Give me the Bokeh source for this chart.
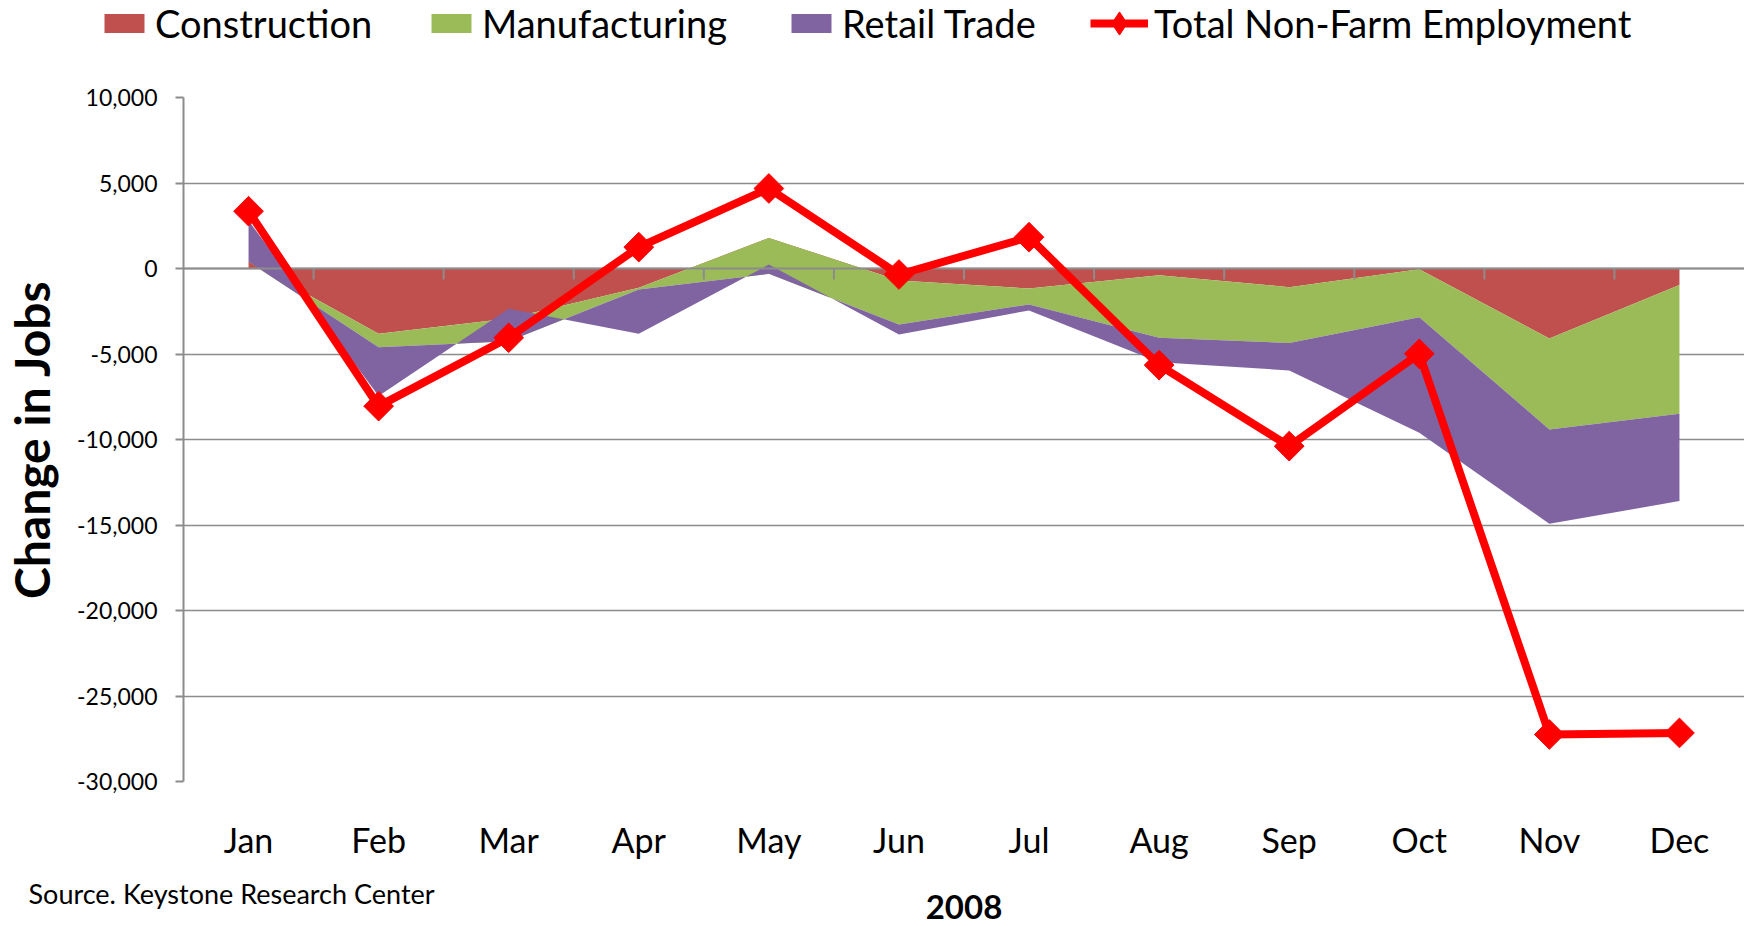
import numpy as np
from bokeh.plotting import figure
from bokeh.layouts import column
from bokeh.models import (ColumnDataSource, Range1d, FixedTicker, NumeralTickFormatter,
                          Legend, LegendItem, Label)
from bokeh.embed import file_html
from bokeh.resources import INLINE

# ---- data ----
months = ["Jan", "Feb", "Mar", "Apr", "May", "Jun", "Jul", "Aug", "Sep", "Oct", "Nov", "Dec"]
construction = [400, -3820, -2920, -1130, 1790, -700, -1170, -390, -1090, -50, -4090, -970]
manufacturing = [0, -780, -1330, -100, -2100, -2570, -930, -3660, -3260, -2800, -5320, -7530]
retail_trade = [2400, -2860, 1890, -2590, 540, -590, -350, -1430, -1610, -6760, -5520, -5100]
total_nonfarm = [3350, -8050, -4050, 1250, 4680, -350, 1830, -5650, -10390, -4990, -27250, -27160]
series_names = ["Construction", "Manufacturing", "Retail Trade", "Total Non-Farm Employment"]
y_ticks = [-30000, -25000, -20000, -15000, -10000, -5000, 0, 5000, 10000]
year_label = "2008"
source_note = "Source. Keystone Research Center"
y_title = "Change in Jobs"

FONT = "Lato"
GRID = "#8c8c8c"
COLORS = ["#C0504D", "#9BBB59", "#8064A2"]
LINE_RED = "#FF0000"

W = 1744
LEG_H, MAIN_H, BOT_H = 46, 816, 64
BL, BT, BB = 183, 51, 80


def bare(h, yr):
    f = figure(width=W, height=h, output_backend="svg", toolbar_location=None,
               x_range=Range1d(0, W), y_range=yr, x_axis_type=None, y_axis_type=None,
               min_border=0, min_border_left=0, min_border_right=0,
               min_border_top=0, min_border_bottom=0, frame_align=False)
    f.outline_line_color = None
    f.grid.grid_line_color = None
    return f


# ---------------- main chart ----------------
x = list(range(len(months)))
src = ColumnDataSource(dict(x=x, construction=construction, manufacturing=manufacturing,
                            retail=retail_trade, total=total_nonfarm))

p = figure(width=W, height=MAIN_H, output_backend="svg", toolbar_location=None,
           x_range=Range1d(-0.5, len(months) - 0.5), y_range=Range1d(-30000, 10000),
           min_border_left=BL, min_border_right=0, min_border_top=BT, min_border_bottom=BB,
           frame_align=False)
p.outline_line_color = None

# stacked areas (Excel-style signed stacking)
areas = p.varea_stack(stackers=["construction", "manufacturing", "retail"], x="x",
                      color=COLORS, source=src)

# category axis line at zero with tick marks between categories
frame_h = MAIN_H - BT - BB
p.hspan(y=[0], line_color=GRID, line_width=2)
bounds = [i + 0.5 for i in range(len(months) - 1)]
tick_len = 11 * 40000 / frame_h
p.segment(x0=bounds, x1=bounds, y0=[0] * len(bounds), y1=[-tick_len] * len(bounds),
          line_color=GRID, line_width=2)

# total line with diamond markers
p.line("x", "total", source=src, line_color=LINE_RED, line_width=8, line_join="round")
p.scatter("x", "total", source=src, marker="square", angle=np.pi / 4, size=21,
          fill_color=LINE_RED, line_color=LINE_RED)

p.xgrid.grid_line_color = None
p.ygrid.grid_line_color = GRID
p.ygrid.grid_line_width = 1.5
p.yaxis.ticker = FixedTicker(ticks=y_ticks)
p.yaxis.formatter = NumeralTickFormatter(format="0,0")
p.yaxis.axis_line_color = GRID
p.yaxis.axis_line_width = 2
p.yaxis.major_tick_line_color = GRID
p.yaxis.major_tick_line_width = 2
p.yaxis.major_tick_out = 8
p.yaxis.major_tick_in = 0
p.yaxis.minor_tick_line_color = None
p.yaxis.major_label_standoff = 18
p.yaxis.major_label_text_font = FONT
p.yaxis.major_label_text_font_size = "23px"
p.yaxis.major_label_text_color = "black"
p.yaxis.axis_label = y_title
p.yaxis.axis_label_text_font = FONT
p.yaxis.axis_label_text_font_style = "bold"
p.yaxis.axis_label_text_font_size = "48px"
p.yaxis.axis_label_text_color = "black"
p.yaxis.axis_label_standoff = 14

p.xaxis.ticker = FixedTicker(ticks=x)
p.xaxis.major_label_overrides = {i: m for i, m in enumerate(months)}
p.xaxis.axis_line_color = None
p.xaxis.major_tick_line_color = None
p.xaxis.minor_tick_line_color = None
p.xaxis.major_label_standoff = 31
p.xaxis.major_label_text_font = FONT
p.xaxis.major_label_text_font_size = "34px"
p.xaxis.major_label_text_color = "black"

# ---------------- legend strip ----------------
lg = bare(LEG_H, Range1d(0, LEG_H))
blank = lambda: ColumnDataSource(dict(x=[np.nan], y=[np.nan], y1=[np.nan], y2=[np.nan]))
leg_areas = [lg.varea(x="x", y1="y1", y2="y2", fill_color=c, source=blank()) for c in COLORS]
leg_line = lg.line(x="x", y="y", line_color=LINE_RED, line_width=8, source=blank())
leg_mark = lg.scatter(x="x", y="y", marker="diamond", size=21,
                      fill_color=LINE_RED, line_color=LINE_RED, source=blank())

leg_x = [99, 426, 786, 1090]
leg_specs = [([leg_areas[0]], 50, 24), ([leg_areas[1]], 50, 24), ([leg_areas[2]], 50, 24),
             ([leg_line, leg_mark], 58, 64)]
for (rends, gw, gh), lx, name in zip(leg_specs, leg_x, series_names):
    item_h = max(gh, LEG_H)
    lg.add_layout(Legend(items=[LegendItem(label=name, renderers=rends)],
                         location=(lx, LEG_H - (LEG_H - item_h) / 2 - item_h),
                         orientation="horizontal", glyph_width=gw, glyph_height=gh,
                         label_standoff=6, padding=0, margin=0, spacing=0,
                         label_text_font=FONT, label_text_font_size="38px",
                         label_text_color="black", border_line_color=None,
                         background_fill_alpha=0), "center")

# ---------------- bottom strip (source + year) ----------------
bt = bare(BOT_H, Range1d(BOT_H, 0))
bt.add_layout(Label(x=28, y=31, text=source_note, text_font=FONT, text_font_size="27px",
                    text_color="black", text_baseline="alphabetic", text_align="left"))
bt.add_layout(Label(x=(BL + W) / 2, y=44, text=year_label, text_font=FONT,
                    text_font_size="33px", text_font_style="bold", text_color="black",
                    text_baseline="middle", text_align="center"))

layout = column(lg, p, bt, spacing=0)
open("out.html", "w").write(file_html(layout, INLINE))
